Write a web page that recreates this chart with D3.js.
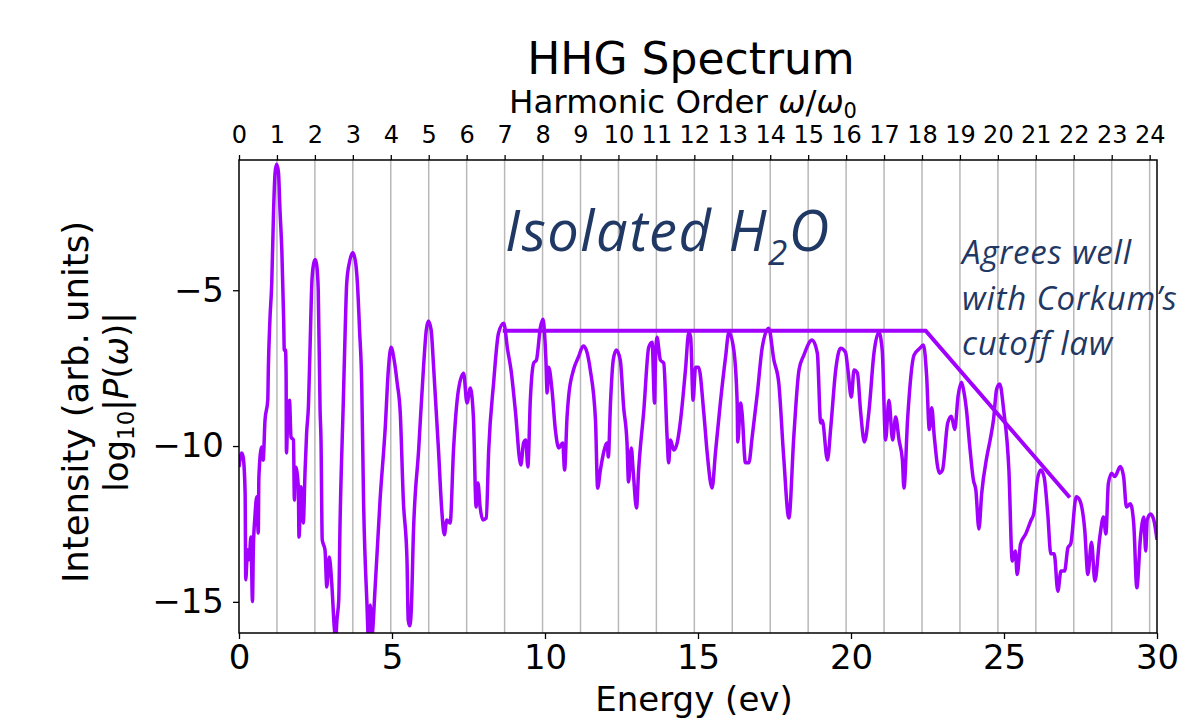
<!DOCTYPE html>
<html>
<head>
<meta charset="utf-8">
<script src="https://cdn.jsdelivr.net/npm/d3@7"></script>
<style>
  html, body { margin: 0; padding: 0; background: #fff; }
  svg { display: block; }
  text { font-family: "DejaVu Sans", sans-serif; }
</style>
</head>
<body>
<svg id="chart" width="1197" height="719"></svg>
<script>
// photon energy (eV) and log10|P(w)|
const energy = [
  0.00, 0.09, 0.14, 0.20, 0.22, 0.28, 0.33, 0.39, 0.44, 0.47,
  0.52, 0.58, 0.63, 0.65, 0.74, 0.79, 0.85, 0.94, 0.96, 1.01,
  1.07, 1.13, 1.18, 1.23, 1.29, 1.34, 1.40, 1.46, 1.48, 1.52,
  1.54, 1.55, 1.59, 1.65, 1.70, 1.78, 1.81, 1.85, 1.94, 1.96,
  2.03, 2.10, 2.16, 2.21, 2.27, 2.32, 2.38, 2.43, 2.49, 2.54,
  2.59, 2.65, 2.68, 2.72, 2.81, 2.87, 2.95, 3.03, 3.12, 3.16,
  3.20, 3.26, 3.30, 3.41, 3.47, 3.52, 3.61, 3.72, 3.81, 3.87,
  3.94, 4.01, 4.07, 4.18, 4.23, 4.29, 4.34, 4.45, 4.61, 4.78,
  4.88, 4.97, 5.07, 5.17, 5.27, 5.37, 5.49, 5.53, 5.58, 5.63,
  5.70, 5.87, 6.03, 6.12, 6.19, 6.28, 6.36, 6.52, 6.62, 6.71,
  6.79, 6.90, 7.01, 7.17, 7.34, 7.45, 7.56, 7.66, 7.75, 7.81,
  7.88, 7.97, 8.08, 8.16, 8.32, 8.48, 8.65, 8.78, 8.89, 9.03,
  9.21, 9.30, 9.37, 9.44, 9.52, 9.63, 9.72, 9.85, 9.93, 10.03,
  10.07, 10.12, 10.23, 10.34, 10.45, 10.58, 10.64, 10.72, 10.77, 10.93,
  11.09, 11.25, 11.35, 11.48, 11.65, 11.72, 11.81, 11.92, 12.03, 12.07,
  12.14, 12.23, 12.33, 12.46, 12.57, 12.68, 12.73, 12.82, 12.88, 12.99,
  13.06, 13.23, 13.39, 13.50, 13.58, 13.61, 13.66, 13.77, 13.88, 13.99,
  14.04, 14.10, 14.21, 14.32, 14.43, 14.59, 14.70, 14.76, 14.84, 14.92,
  15.02, 15.19, 15.30, 15.46, 15.57, 15.73, 15.90, 16.01, 16.17, 16.28,
  16.30, 16.39, 16.44, 16.55, 16.66, 16.77, 16.94, 17.10, 17.31, 17.48,
  17.64, 17.80, 17.97, 18.13, 18.30, 18.46, 18.73, 18.90, 19.01, 19.06,
  19.23, 19.34, 19.50, 19.66, 19.82, 19.90, 20.01, 20.10, 20.21, 20.31,
  20.44, 20.59, 20.75, 20.91, 21.02, 21.13, 21.24, 21.36, 21.46, 21.57,
  21.68, 21.73, 21.85, 22.06, 22.23, 22.37, 22.47, 22.56, 22.64, 22.72,
  22.89, 22.99, 23.16, 23.28, 23.39, 23.50, 23.61, 23.68, 23.77, 23.88,
  24.00, 24.08, 24.18, 24.27, 24.44, 24.55, 24.66, 24.76, 24.86, 24.99,
  25.16, 25.27, 25.37, 25.43, 25.54, 25.71, 25.88, 25.97, 26.09, 26.20,
  26.31, 26.43, 26.53, 26.64, 26.76, 26.86, 26.98, 27.09, 27.18, 27.36,
  27.47, 27.64, 27.74, 27.86, 27.97, 28.13, 28.25, 28.33, 28.41, 28.52,
  28.62, 28.80, 28.91, 29.00, 29.13, 29.24, 29.34, 29.46, 29.57, 29.63,
  29.68, 29.79, 29.90, 30.00
]
const logP = [
  -10.67, -10.22, -10.38, -11.51, -14.29, -13.33, -13.65, -12.92, -14.99, -13.24,
  -12.28, -11.63, -12.79, -10.99, -10.03, -10.45, -9.17, -8.53, -7.47, -5.96,
  -4.78, -2.44, -1.22, -0.96, -1.22, -2.44, -3.72, -5.96, -6.92, -6.92,
  -7.78, -10.22, -9.17, -8.53, -9.71, -9.81, -11.73, -10.67, -11.31, -12.92,
  -11.31, -12.47, -10.77, -9.58, -8.69, -6.92, -4.78, -4.20, -4.01, -4.20,
  -5.00, -8.85, -9.81, -13.01, -13.33, -14.52, -13.56, -14.39, -15.90, -16.20,
  -15.58, -14.94, -12.60, -8.53, -6.28, -4.78, -4.10, -3.80, -4.10, -4.78,
  -6.28, -7.98, -11.73, -15.03, -16.20, -15.10, -16.10, -14.52, -11.73, -9.39,
  -7.56, -6.83, -7.24, -7.98, -8.94, -11.73, -13.65, -15.58, -15.77, -15.26,
  -12.79, -10.13, -7.47, -6.28, -5.99, -6.28, -7.47, -10.13, -11.96, -12.85,
  -12.37, -12.47, -10.13, -8.21, -7.66, -8.62, -8.14, -9.07, -11.96, -11.19,
  -11.96, -12.37, -12.31, -10.13, -7.98, -6.38, -6.06, -6.92, -7.56, -8.85,
  -10.61, -9.90, -9.81, -10.67, -8.53, -7.34, -7.24, -6.19, -5.93, -7.24,
  -8.30, -7.47, -8.21, -9.49, -10.06, -9.90, -10.77, -9.07, -8.43, -7.56,
  -7.15, -6.79, -6.92, -7.56, -9.17, -11.35, -10.77, -10.19, -9.90, -10.35,
  -8.62, -7.24, -6.92, -7.24, -8.75, -9.90, -11.15, -10.06, -10.77, -11.99,
  -10.77, -8.85, -6.83, -6.67, -8.62, -7.24, -6.51, -7.24, -7.34, -9.71,
  -10.54, -9.81, -10.13, -9.90, -9.17, -7.56, -6.35, -6.51, -8.53, -7.47,
  -7.47, -8.94, -10.22, -11.35, -10.22, -8.62, -7.15, -6.35, -6.92, -8.62,
  -9.87, -8.62, -8.94, -10.54, -10.54, -9.71, -8.30, -6.83, -6.22, -7.24,
  -7.98, -10.35, -12.31, -9.71, -7.56, -7.08, -6.60, -7.02, -9.26, -9.17,
  -10.45, -9.39, -7.56, -6.86, -6.99, -7.56, -8.43, -7.56, -7.66, -8.85,
  -9.87, -8.85, -7.02, -6.35, -6.92, -9.81, -8.53, -9.81, -9.07, -9.81,
  -10.45, -11.35, -9.13, -7.08, -6.88, -6.76, -7.72, -9.47, -8.77, -9.68,
  -10.87, -10.77, -9.26, -9.04, -9.47, -8.39, -7.95, -8.21, -8.81, -10.00,
  -11.09, -11.41, -12.66, -11.53, -10.34, -9.79, -9.13, -8.17, -8.01, -8.85,
  -10.77, -13.69, -13.37, -14.12, -13.14, -12.82, -12.39, -12.18, -11.09, -10.77,
  -10.99, -12.18, -13.46, -13.46, -14.66, -14.01, -14.01, -13.26, -13.14, -11.63,
  -11.73, -12.71, -14.12, -13.09, -14.33, -12.93, -12.28, -12.82, -11.20, -10.87,
  -10.98, -10.66, -10.99, -11.96, -11.85, -12.50, -14.55, -12.93, -12.28, -13.37,
  -12.37, -12.18, -12.39, -13.01
]

// Corkum cutoff guide (plateau then fall-off)
const cutoffE = [8.62, 22.44, 27.15]
const cutoffP = [-6.30, -6.30, -11.65]

const photonEnergy = 1.24 // eV, fundamental
const harmonicTicks = d3.range(0, 25)
const energyTicks = [0, 5, 10, 15, 20, 25, 30]
const intensityTicks = [-15, -10, -5]
const noteLines = ['Agrees well', 'with Corkum\u2019s', 'cutoff law']

const purple = '#a100ff'
const navy = '#1f3864'
const noteFont = '"Open Sans", Lato, sans-serif'

// plot box
const boxLeft = 239, boxRight = 1157, boxTop = 160, boxBottom = 633

const svg = d3.select('#chart')

const x = d3.scaleLinear().domain([0, 30]).range([boxLeft, boxRight])
const xh = d3.scaleLinear().domain([0, 30 / photonEnergy]).range([boxLeft, boxRight])
const y = d3.scaleLinear().domain([-16, -0.82]).range([boxBottom, boxTop])

// grid at each harmonic
svg.append('g')
  .selectAll('line')
  .data(harmonicTicks.filter(d => d > 0))
  .join('line')
  .attr('x1', d => xh(d)).attr('x2', d => xh(d))
  .attr('y1', boxTop).attr('y2', boxBottom)
  .attr('stroke', '#b8b8b8')
  .attr('stroke-width', 1.5)

// clip for the curve
svg.append('clipPath').attr('id', 'plotclip')
  .append('rect')
  .attr('x', boxLeft).attr('y', boxTop)
  .attr('width', boxRight - boxLeft).attr('height', boxBottom - boxTop)

const line = d3.line()
  .x(d => x(d[0]))
  .y(d => y(d[1]))
  .curve(d3.curveMonotoneX)

svg.append('path')
  .datum(energy.map((e, i) => [e, logP[i]]))
  .attr('clip-path', 'url(#plotclip)')
  .attr('d', line)
  .attr('fill', 'none')
  .attr('stroke', purple)
  .attr('stroke-width', 3.5)
  .attr('stroke-linejoin', 'round')

svg.append('path')
  .datum(cutoffE.map((e, i) => [e, cutoffP[i]]))
  .attr('d', d3.line().x(d => x(d[0])).y(d => y(d[1])))
  .attr('fill', 'none')
  .attr('stroke', purple)
  .attr('stroke-width', 4)

// axes
let styleAxis = function (g, size) {
  g.select('.domain').remove()
  g.selectAll('.tick line').attr('stroke', '#000').attr('stroke-width', 1.3)
  g.selectAll('.tick text').attr('fill', '#000')
    .style('font-size', size + 'px')
    .style('font-family', '"DejaVu Sans", sans-serif')
}

svg.append('g')
  .attr('transform', `translate(0,${boxBottom})`)
  .call(d3.axisBottom(x).tickValues(energyTicks).tickSize(6).tickPadding(6).tickFormat(d3.format('d')))
  .call(g => styleAxis(g, 34))

svg.append('g')
  .attr('transform', `translate(${boxLeft},0)`)
  .call(d3.axisLeft(y).tickValues(intensityTicks).tickSize(6).tickPadding(9))
  .call(g => styleAxis(g, 34))

svg.append('g')
  .attr('transform', `translate(0,${boxTop})`)
  .call(d3.axisTop(xh).tickValues(harmonicTicks).tickSize(5).tickPadding(12))
  .call(g => styleAxis(g, 24))

// frame
svg.append('rect')
  .attr('x', boxLeft).attr('y', boxTop)
  .attr('width', boxRight - boxLeft).attr('height', boxBottom - boxTop)
  .attr('fill', 'none')
  .attr('stroke', '#000')
  .attr('stroke-width', 1.5)

// titles
svg.append('text')
  .attr('x', 691).attr('y', 74)
  .attr('text-anchor', 'middle')
  .style('font-size', '44px')
  .text('HHG Spectrum')

let hl = svg.append('text')
  .attr('x', 683).attr('y', 113)
  .attr('text-anchor', 'middle')
  .style('font-size', '32.5px')
hl.append('tspan').text('Harmonic Order ')
hl.append('tspan').style('font-style', 'italic').text('\u03c9')
hl.append('tspan').text('/')
hl.append('tspan').style('font-style', 'italic').text('\u03c9')
hl.append('tspan').attr('dy', 5).style('font-size', '21px').text('0')

svg.append('text')
  .attr('x', 694).attr('y', 711)
  .attr('text-anchor', 'middle')
  .style('font-size', '34px')
  .text('Energy (ev)')

// two-line y label
let yl = svg.append('g').attr('transform', 'translate(88,402) rotate(-90)')
yl.append('text')
  .attr('text-anchor', 'middle')
  .style('font-size', '35.5px')
  .text('Intensity (arb. units)')
let yl2 = yl.append('text')
  .attr('y', 40)
  .attr('text-anchor', 'middle')
  .style('font-size', '34px')
yl2.append('tspan').text('log')
yl2.append('tspan').attr('dy', 6).style('font-size', '23px').text('10')
yl2.append('tspan').attr('dy', -6).text('|')
yl2.append('tspan').style('font-style', 'italic').text('P')
yl2.append('tspan').text('(')
yl2.append('tspan').style('font-style', 'italic').text('\u03c9')
yl2.append('tspan').text(')|')

// annotations
let iso = svg.append('text')
  .attr('x', 505).attr('y', 251)
  .style('font-family', noteFont)
  .style('font-style', 'italic')
  .style('font-size', '56px')
  .style('letter-spacing', '1.5px')
  .attr('fill', navy)
iso.append('tspan').text('Isolated H')
iso.append('tspan').attr('dy', 14).style('font-size', '35px').text('2')
iso.append('tspan').attr('dy', -14).text('O')

svg.append('g')
  .selectAll('text')
  .data(noteLines)
  .join('text')
  .attr('x', 962)
  .attr('y', (d, i) => 264 + i * 45.5)
  .style('font-family', noteFont)
  .style('font-style', 'italic')
  .style('font-size', '33px')
  .style('letter-spacing', '0.8px')
  .attr('fill', navy)
  .text(d => d)
</script>
</body>
</html>
